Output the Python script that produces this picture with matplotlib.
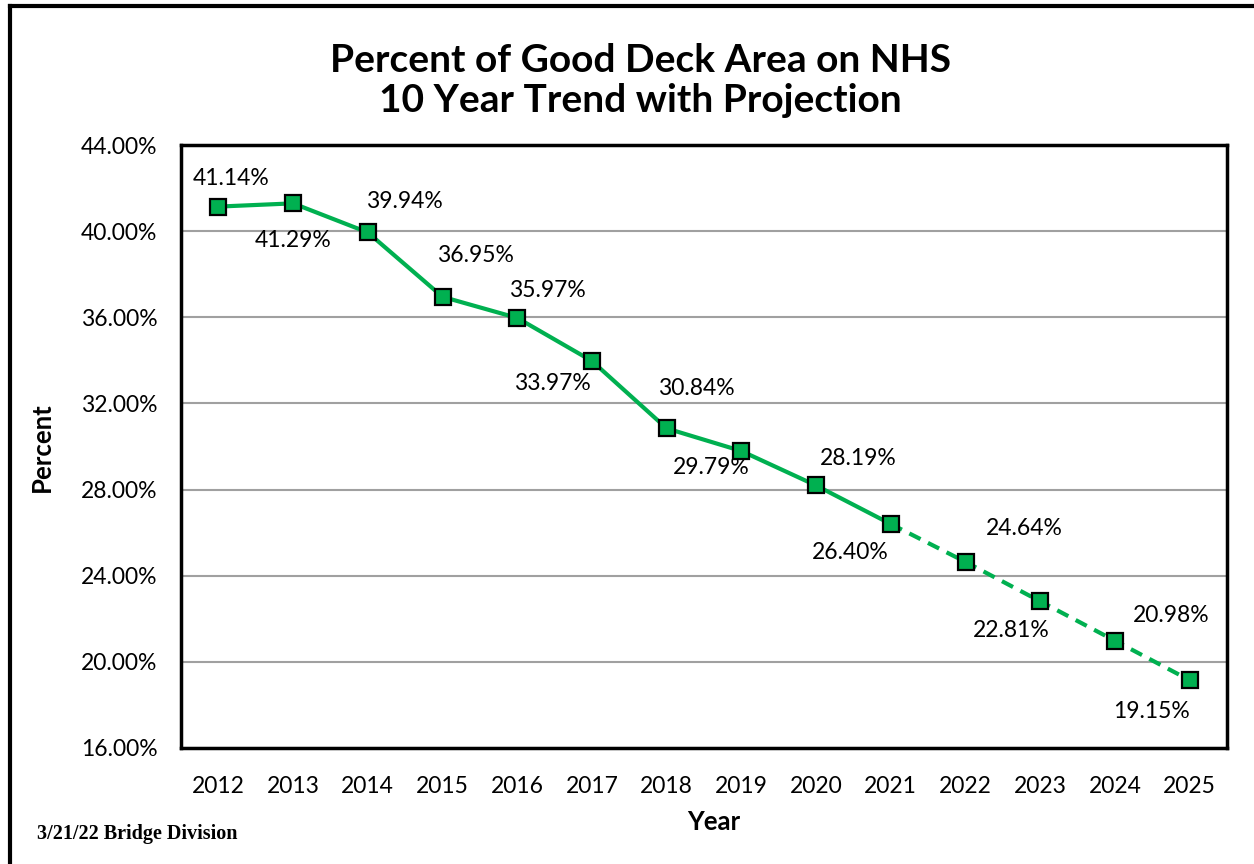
import matplotlib.pyplot as plt
from matplotlib.lines import Line2D

years = ['2012', '2013', '2014', '2015', '2016', '2017', '2018',
         '2019', '2020', '2021', '2022', '2023', '2024', '2025']
pct = [41.14, 41.29, 39.94, 36.95, 35.97, 33.97, 30.84,
       29.79, 28.19, 26.40, 24.64, 22.81, 20.98, 19.15]
# last actual year; the rest is projection
last_actual = 9

# label offsets (pixels) from each point
label_dx = [13, 0, 37, 33, 30, -40, 30, -30, 42, -41, 59, -29, 56, -38]
label_dy = [28, -37, 31, 41, 27, -22, 40, -16, 27, -28, 33, -29, 25, -31]

GREEN = '#00B050'
FONT = 'Lato'
W, H = 1254, 864

fig = plt.figure(figsize=(W / 100, H / 100), dpi=100)
ax = fig.add_axes([181 / W, 1 - 748 / H, 1046 / W, 603 / H])

x = list(range(len(years)))
ax.plot(x[:last_actual + 1], pct[:last_actual + 1], color=GREEN, lw=3, zorder=3)
ax.plot(x[last_actual:], pct[last_actual:], color=GREEN, lw=3,
        linestyle=(0, (3, 2)), zorder=3)
ax.plot(x, pct, linestyle='none', marker='s', markersize=11,
        markerfacecolor=GREEN, markeredgecolor='black', markeredgewidth=1.6, zorder=4)

for i, v in enumerate(pct):
    ax.annotate(f'{v:.2f}%', (i, v), xytext=(label_dx[i], label_dy[i]),
                textcoords='offset pixels', ha='center', va='center',
                fontsize=16.5, family=FONT)

ax.set_xlim(-0.5, len(years) - 0.5)
ax.set_ylim(16, 44)
ax.set_yticks(range(16, 45, 4))
ax.set_yticklabels([f'{t:.2f}%' for t in range(16, 45, 4)], fontsize=16.5, family=FONT)
ax.set_xticks(x)
ax.set_xticklabels(years, fontsize=16.5, family=FONT)
ax.tick_params(axis='x', length=0, pad=20)
ax.tick_params(axis='y', length=0, pad=17)
ax.grid(axis='y', color='#A0A0A0', lw=1.5)
ax.set_axisbelow(True)
for s in ax.spines.values():
    s.set_linewidth(2.5)
    s.set_color('black')

fig.text(714 / W, 1 - 822 / H, 'Year', ha='center', va='center',
         fontsize=18.5, fontweight='bold', family=FONT)
fig.text(42 / W, 1 - 447 / H, 'Percent', ha='center', va='center', rotation=90,
         fontsize=18.5, fontweight='bold', family=FONT)

fig.text(640 / W, 1 - 60 / H, 'Percent of Good Deck Area on NHS',
         ha='center', va='center', fontsize=28, fontweight='bold', family=FONT)
fig.text(640 / W, 1 - 101 / H, '10 Year Trend with Projection',
         ha='center', va='center', fontsize=28, fontweight='bold', family=FONT)
fig.text(37 / W, 1 - 834 / H, '3/21/22 Bridge Division',
         ha='left', va='center', fontsize=14.5, fontweight='bold', family='Liberation Serif')

# frame on the left and top edges
fig.add_artist(Line2D([10 / W, 10 / W], [0, 1 - 6 / H], color='black', lw=3))
fig.add_artist(Line2D([10 / W, 1], [1 - 6 / H, 1 - 6 / H], color='black', lw=3))

fig.savefig('out.png', dpi=100)
